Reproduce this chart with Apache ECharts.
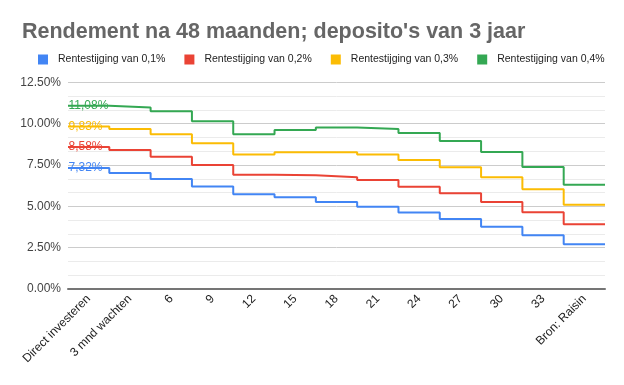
<!DOCTYPE html>
<html>
<head>
<meta charset="utf-8">
<script src="https://cdn.jsdelivr.net/npm/echarts@6/dist/echarts.min.js"></script>
<style>
html,body{margin:0;padding:0;background:#fff;}
#chart{width:624px;height:385px;}
</style>
</head>
<body>
<div id="chart"></div>
<script>
const categories = ['Direct investeren','3 mnd wachten','6','9','12','15','18','21','24','27','30','33','Bron: Raisin'];
const seriesNames = ['Rentestijging van 0,1%','Rentestijging van 0,2%','Rentestijging van 0,3%','Rentestijging van 0,4%'];
const blue   = [7.32, 7.02, 6.65, 6.20, 5.73, 5.55, 5.26, 4.98, 4.62, 4.23, 3.77, 3.25, 2.70];
const red    = [8.58, 8.40, 8.00, 7.50, 6.91, 6.88, 6.76, 6.59, 6.19, 5.79, 5.26, 4.64, 3.91];
const yellow = [9.83, 9.67, 9.36, 8.81, 8.13, 8.27, 8.27, 8.13, 7.80, 7.36, 6.76, 6.03, 5.10];
const green  = [11.08, 10.97, 10.75, 10.14, 9.36, 9.62, 9.76, 9.68, 9.43, 8.95, 8.29, 7.38, 6.31];
const yTicks = [0, 2.5, 5, 7.5, 10, 12.5];
const colors = ['#4285F4','#EA4335','#FBBC04','#34A853'];
const values = [blue, red, yellow, green];

const font = '"Liberation Sans", Arial, sans-serif';

function stepData(arr, color){
  const d = arr.map((v,i)=> i===0 ? {
      value:[i, v], symbol:'circle', symbolSize:1,
      label:{show:true, position:'right', distance:0, fontFamily:font, fontSize:12, color:color,
        formatter: v.toFixed(2).replace('.',',')+'%'}
    } : [i, v]);
  d.push([arr.length, arr[arr.length-1]]);
  return d;
}

const chart = echarts.init(document.getElementById('chart'));
chart.setOption({
  animation:false,
  backgroundColor:'#fff',
  color:colors,
  title:{
    text:"Rendement na 48 maanden; deposito's van 3 jaar",
    left:17, top:16,
    textStyle:{fontFamily:font, fontSize:21.5, fontWeight:'bold', color:'#666666'}
  },
  legend:{
    left:33, top:49,
    itemWidth:10, itemHeight:10, itemGap:19,
    icon:'rect',
    textStyle:{fontFamily:font, fontSize:10.5, color:'#222', padding:[0,0,0,5]},
    data:seriesNames.map((n,i)=>({name:n, itemStyle:{color:colors[i], opacity:1}}))
  },
  grid:{left:68, right:19, top:82.3, bottom:96, containLabel:false},
  xAxis:[
    {
      type:'category', data:categories, boundaryGap:true,
      axisLine:{show:true, lineStyle:{color:'#757575', width:2}},
      axisTick:{show:false},
      axisLabel:{rotate:45, interval:0, margin:8, fontFamily:font, fontSize:12, color:'#222'},
      splitLine:{show:false}
    },
    {
      type:'value', min:0, max:categories.length, show:false,
      splitLine:{show:false}
    }
  ],
  yAxis:{
    type:'value', min:0, max:12.5, interval:2.5,
    axisLine:{show:false}, axisTick:{show:false},
    axisLabel:{fontFamily:font, fontSize:12, color:'#444', margin:7,
      formatter:v=> yTicks.includes(v) ? v.toFixed(2)+'%' : ''},
    splitLine:{lineStyle:{color:'#cccccc', width:1}},
    minorTick:{show:false, splitNumber:3},
    minorSplitLine:{show:true, lineStyle:{color:'#ebebeb', width:1}}
  },
  series: values.map((arr,si)=>({
    name:seriesNames[si],
    type:'line',
    xAxisIndex:1,
    step:'end',
    data:stepData(arr, colors[si]),
    symbol:'none',
    showSymbol:true,
    lineStyle:{width:2, color:colors[si]},
    itemStyle:{color:'rgba(0,0,0,0)', borderWidth:0},
    emphasis:{disabled:true},
    labelLayout:{hideOverlap:false},
    z:2+si
  }))
});
</script>
</body>
</html>
